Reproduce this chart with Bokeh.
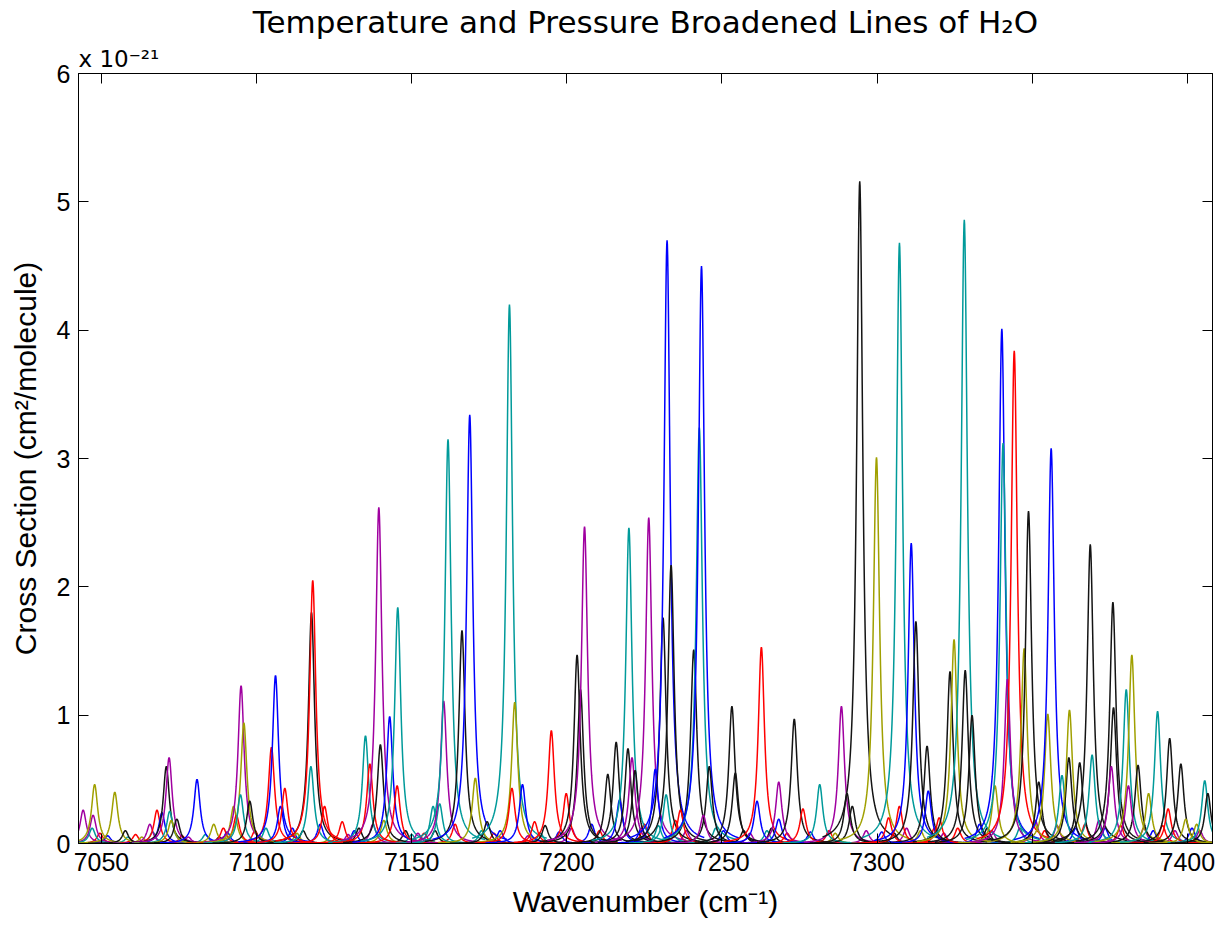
import numpy as np
from bokeh.plotting import figure
from bokeh.models import FixedTicker, LinearAxis, Title, Range1d, ColumnDataSource
from bokeh.embed import file_html
from bokeh.resources import INLINE

# colour index: 0 blue, 1 teal, 2 red, 3 purple, 4 olive, 5 black
palette = ["#0000ff", "#009a9a", "#ff0000", "#a000a0", "#a0a000", "#141414"]

# strong lines: centre (cm-1), peak cross section (1e-21 cm2/molecule), colour
strong_centers = [
    7044.1, 7047.3, 7047.8, 7047.0, 7054.3, 7057.7, 7065.6, 7067.9, 7069.5, 7070.9,
    7071.8, 7072.0, 7072.5, 7074.3, 7080.8, 7086.2, 7089.3, 7092.6, 7093.5, 7095.0,
    7095.9, 7094.8, 7097.8,
    7104.8, 7106.1, 7107.7, 7109.1, 7117.7, 7118.1, 7117.5, 7121.9, 7127.6, 7135.1,
    7136.5, 7139.4, 7139.9, 7142.9, 7145.5, 7145.3, 7152.0, 7156.9, 7159.0, 7160.3,
    7161.7,
    7166.2, 7168.7, 7170.5, 7174.3, 7181.5, 7183.2, 7182.3, 7185.7, 7189.6, 7193.0,
    7195.0, 7199.8, 7203.3, 7204.4, 7205.7, 7213.2, 7215.9, 7217.0, 7220.0, 7219.7,
    7221.0, 7222.0,
    7226.4, 7228.5, 7231.0, 7232.3, 7233.6, 7232.0, 7236.6, 7240.9, 7242.7, 7243.4,
    7245.9, 7244.0, 7253.2, 7254.3, 7261.3, 7262.7, 7268.3, 7268.3, 7273.3, 7276.1,
    7281.5,
    7288.5, 7290.3, 7292.0, 7294.4, 7299.8, 7303.7, 7307.2, 7307.2, 7311.0, 7312.5,
    7316.1, 7316.5, 7320.0, 7323.5, 7324.8, 7328.1, 7328.4, 7330.6, 7338.0, 7340.2,
    7340.6, 7342.0, 7344.2,
    7347.4, 7348.8, 7352.1, 7355.0, 7356.1, 7359.6, 7361.8, 7362.0, 7365.3, 7368.7,
    7369.3, 7376.0, 7376.2, 7375.5, 7380.3, 7382.1, 7384.1, 7381.0, 7387.5, 7390.4,
    7394.3, 7393.8, 7397.9, 7399.5, 7403.0, 7405.6, 7406.6,
]
strong_heights = [
    0.26, 0.22, 0.46, 0.12, 0.40, 0.10, 0.15, 0.26, 0.24, 0.60,
    0.67, 0.25, 0.18, 0.19, 0.50, 0.15, 0.12, 0.29, 0.22, 1.23,
    0.94, 0.38, 0.33,
    0.75, 1.31, 0.29, 0.43, 1.80, 2.05, 0.60, 0.29, 0.17, 0.84,
    0.62, 2.62, 0.77, 0.99, 1.84, 0.45, 0.08, 0.29, 0.31, 1.11,
    3.15,
    1.66, 3.34, 0.51, 0.17, 4.20, 1.10, 0.43, 0.46, 0.17, 0.14,
    0.88, 0.39, 1.47, 1.20, 2.47, 0.54, 0.79, 0.34, 2.46, 0.74,
    0.67, 0.57,
    2.54, 0.58, 1.76, 4.70, 2.17, 0.38, 0.26, 1.51, 3.24, 4.50,
    0.60, 0.22, 1.07, 0.55, 0.33, 1.53, 0.48, 0.19, 0.97, 0.27,
    0.46,
    1.07, 0.39, 0.29, 5.16, 3.01, 0.20, 0.29, 4.68, 2.34, 1.73,
    0.76, 0.41, 0.20, 1.34, 1.59, 4.86, 1.35, 1.00, 0.45, 4.01,
    3.12, 1.28, 3.84,
    1.52, 2.59, 0.48, 1.01, 3.08, 0.53, 0.67, 1.04, 0.63, 2.33,
    0.69, 1.88, 1.06, 0.60, 1.20, 1.47, 0.61, 0.45, 0.39, 1.03,
    0.82, 0.27, 0.62, 0.19, 0.15, 0.49, 0.39,
]
strong_colors = [
    3, 3, 4, 1, 4, 5, 3, 2, 0, 5,
    3, 1, 4, 5, 0, 4, 2, 4, 2, 3,
    4, 1, 5,
    2, 0, 0, 2, 5, 2, 1, 2, 2, 1,
    2, 3, 5, 0, 1, 2, 3, 1, 1, 3,
    1,
    5, 0, 4, 5, 1, 4, 2, 0, 2, 5,
    2, 2, 5, 5, 3, 5, 5, 0, 1, 5,
    3, 5,
    3, 0, 5, 0, 5, 1, 2, 5, 1, 0,
    5, 3, 5, 5, 0, 2, 3, 0, 5, 2,
    1,
    3, 5, 5, 5, 4, 2, 2, 1, 0, 5,
    5, 0, 2, 5, 4, 1, 5, 5, 4, 0,
    1, 3, 2,
    4, 5, 5, 4, 0, 1, 5, 4, 5, 5,
    1, 5, 5, 3, 1, 4, 5, 3, 4, 1,
    5, 2, 5, 4, 4, 1, 5,
]

# weak lines near the baseline
weak_centers = [
    7049.5, 7052.0, 7058.5, 7061.0, 7063.0, 7066.5, 7076.0, 7078.0, 7083.5, 7088.0,
    7090.5, 7099.5, 7101.0, 7103.0, 7111.5, 7113.0, 7115.0, 7120.5, 7124.0, 7129.5,
    7131.5, 7133.0, 7137.5, 7141.0, 7148.0, 7150.0, 7154.0, 7157.5, 7164.0, 7172.5,
    7176.5, 7178.5, 7187.5, 7191.5, 7197.5, 7201.5, 7208.0, 7210.5, 7224.0, 7225.0,
    7229.5, 7235.0, 7238.5, 7248.0, 7250.5, 7257.0, 7259.0, 7264.5, 7266.0, 7271.0,
    7278.5, 7284.5, 7286.5, 7296.5, 7301.5, 7305.5, 7309.5, 7314.0, 7318.5, 7321.5,
    7326.0, 7333.0, 7335.5, 7337.0, 7346.0, 7351.0, 7354.0, 7358.0, 7364.0, 7367.0,
    7371.5, 7373.5, 7378.5, 7386.0, 7389.0, 7392.0, 7396.0, 7401.5, 7404.0,
]
weak_heights = [
    0.08, 0.06, 0.05, 0.07, 0.05, 0.09, 0.06, 0.05, 0.07, 0.05,
    0.09, 0.10, 0.06, 0.12, 0.12, 0.08, 0.10, 0.15, 0.06, 0.07,
    0.10, 0.12, 0.15, 0.18, 0.10, 0.07, 0.08, 0.10, 0.15, 0.10,
    0.08, 0.10, 0.06, 0.08, 0.09, 0.12, 0.15, 0.10, 0.12, 0.15,
    0.14, 0.18, 0.10, 0.12, 0.10, 0.10, 0.08, 0.10, 0.12, 0.08,
    0.09, 0.10, 0.08, 0.10, 0.09, 0.08, 0.12, 0.10, 0.12, 0.08,
    0.12, 0.15, 0.12, 0.10, 0.12, 0.18, 0.10, 0.14, 0.12, 0.15,
    0.18, 0.12, 0.14, 0.12, 0.10, 0.14, 0.10, 0.12, 0.10,
]
weak_colors = [
    2, 0, 1, 2, 4, 1, 2, 3, 1, 5,
    0, 2, 3, 1, 0, 4, 5, 0, 4, 3,
    0, 5, 3, 4, 5, 1, 2, 5, 2, 1,
    2, 0, 3, 1, 0, 3, 0, 2, 0, 2,
    1, 2, 3, 1, 0, 5, 3, 1, 5, 2,
    0, 2, 4, 3, 0, 5, 3, 4, 2, 3,
    2, 0, 5, 3, 1, 3, 2, 3, 0, 2,
    3, 0, 2, 3, 0, 2, 3, 0, 3,
]

x_ticks = [7050, 7100, 7150, 7200, 7250, 7300, 7350, 7400]
y_ticks = [0, 1, 2, 3, 4, 5, 6]
x_lo, x_hi = 7042.6, 7408.1
hwhm = 1.2

centers = weak_centers + strong_centers
heights = weak_heights + strong_heights
cols = weak_colors + strong_colors

xs, ys, cs = [], [], []
for c, h, k in zip(centers, heights, cols):
    x = np.arange(c - 12.0, c + 12.0 + 1e-9, 0.1)
    y = h * hwhm ** 2 / ((x - c) ** 2 + hwhm ** 2)
    xs.append(x.tolist())
    ys.append(y.tolist())
    cs.append(palette[k])

src = ColumnDataSource(dict(xs=xs, ys=ys, color=cs))

FONT = "Liberation Sans"
WIDE = "DejaVu Sans"

p = figure(width=1232, height=927, x_range=Range1d(x_lo, x_hi), y_range=Range1d(0, 6),
           output_backend="svg", toolbar_location=None, title=None,
           min_border_left=78, min_border_right=20, min_border_top=72, min_border_bottom=84)
p.multi_line(xs="xs", ys="ys", line_color="color", line_width=1.5, source=src)

p.xgrid.visible = False
p.ygrid.visible = False
p.outline_line_color = "black"
p.outline_line_width = 1
p.background_fill_color = "white"
p.border_fill_color = "white"

bottom = p.below[0]
left = p.left[0]
bottom.ticker = FixedTicker(ticks=x_ticks)
left.ticker = FixedTicker(ticks=y_ticks)

# box axes (ticks only, no labels drawn)
top = LinearAxis(ticker=FixedTicker(ticks=x_ticks), major_label_text_font_size="1px",
                 major_label_text_color=None, major_label_standoff=0)
right = LinearAxis(ticker=FixedTicker(ticks=y_ticks), major_label_text_font_size="1px",
                   major_label_text_color=None, major_label_standoff=0)
p.add_layout(top, "above")
p.add_layout(right, "right")

for ax in [bottom, left, top, right]:
    ax.major_tick_in = 10
    ax.major_tick_out = 0
    ax.minor_tick_line_color = None
    ax.axis_line_color = "black"
    ax.major_tick_line_color = "black"
    ax.major_label_text_font = FONT
    ax.axis_label_text_font = FONT
    ax.axis_label_text_font_style = "normal"
    ax.axis_label_text_color = "black"

for ax in [bottom, left]:
    ax.major_label_text_color = "black"
    ax.major_label_text_font_size = "25px"
    ax.axis_label_text_font_size = "30px"

bottom.major_label_standoff = 9
left.major_label_standoff = 8
bottom.axis_label = "Wavenumber (cm\u207b\u00b9)"
left.axis_label = "Cross Section (cm\u00b2/molecule)"
bottom.axis_label_standoff = 11
left.axis_label_standoff = 12

exp_title = Title(text="x 10\u207b\u00b2\u00b9", align="left", standoff=4,
                  text_font=WIDE, text_font_size="23px", text_font_style="normal",
                  text_color="black")
main_title = Title(text="Temperature and Pressure Broadened Lines of H\u2082O", align="center",
                   standoff=3, text_font=WIDE, text_font_size="31px", text_font_style="normal",
                   text_color="black")
p.add_layout(exp_title, "above")
p.add_layout(main_title, "above")

open("out.html", "w").write(file_html(p, INLINE))
